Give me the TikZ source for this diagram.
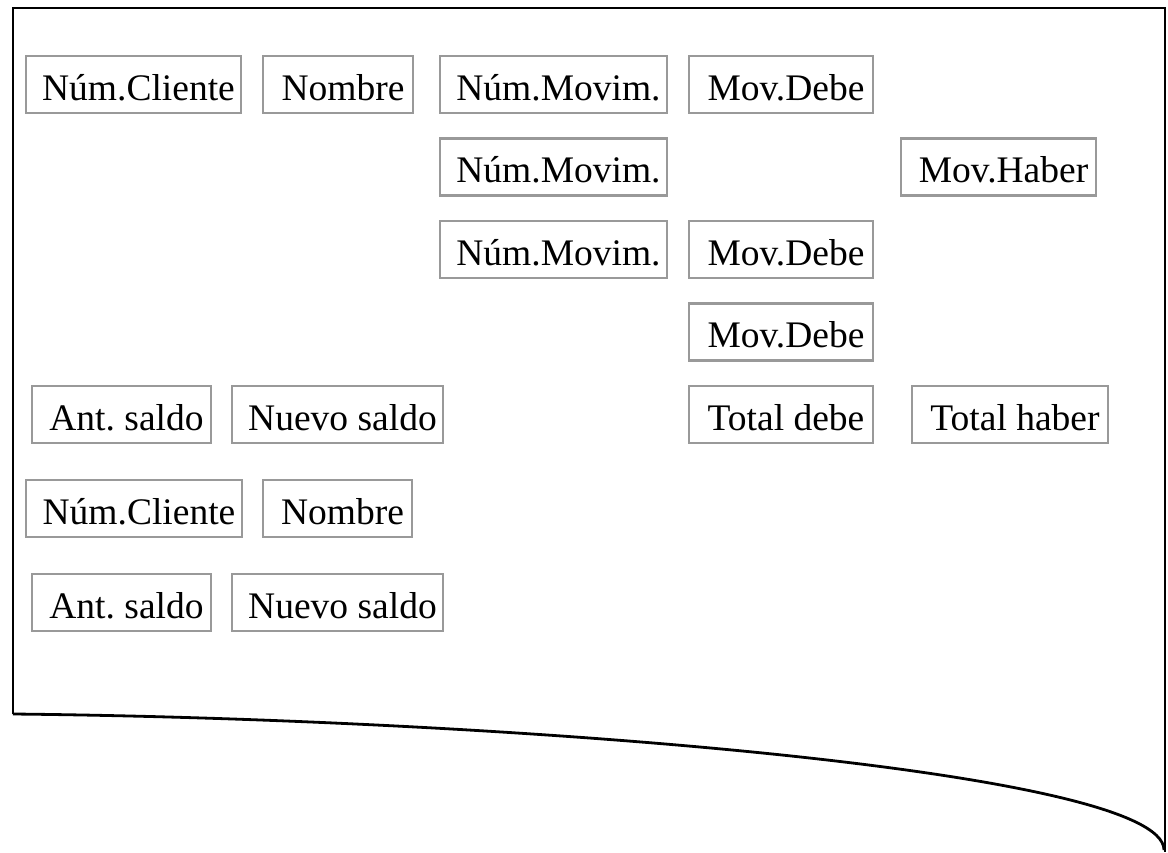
\documentclass[tikz,border=0pt]{standalone}
\usepackage{fontspec}
\setmainfont{Liberation Serif}
\frenchspacing
\begin{document}
\begin{tikzpicture}[x=1pt,y=-1pt,
  fieldbox/.style={draw=black!40, line width=2.3pt, minimum height=57pt, inner sep=0pt},
  fieldtext/.style={anchor=base, inner sep=0pt, font=\fontsize{37.5}{44}\selectfont},
  outline/.style={draw=black, line width=2.8pt}]
\useasboundingbox (0,0) rectangle (1168,852);

% document outline
\coordinate (bl) at (13,714);
\coordinate (tl) at (13,8);
\coordinate (tr) at (1165,8);
\coordinate (br) at (1165,852);
\coordinate (cend) at (1164,850);
\draw[outline] (bl) -- (tl) -- (tr) -- (br);
\draw[outline] (bl) .. controls (500,719) and (1164,770) .. (cend);

% field boxes: name, centre, width, label
\foreach \n/\cx/\cy/\w/\t in {
  c1/133.5/84.5/215/{Núm.Cliente},
  n1/338/84.5/150/{Nombre},
  m1/553.5/84.5/227/{Núm.Movim.},
  d1/781/84.5/184/{Mov.Debe},
  m2/553.5/167/227/{Núm.Movim.},
  h2/998.5/167/195/{Mov.Haber},
  m3/553.5/249.5/227/{Núm.Movim.},
  d3/781/249.5/184/{Mov.Debe},
  d4/781/332/184/{Mov.Debe},
  a5/121.5/414.5/179/{Ant. saldo},
  s5/337.5/414.5/211/{Nuevo saldo},
  td/781/414.5/184/{Total debe},
  th/1010/414.5/196/{Total haber},
  c6/134/508.5/216/{Núm.Cliente},
  n6/337.5/508.5/149/{Nombre},
  a7/121.5/602.5/179/{Ant. saldo},
  s7/337.5/602.5/211/{Nuevo saldo}}{
  \node[fieldbox, minimum width=\w pt] (\n) at (\cx,\cy) {};
  \node[fieldtext] (\n-txt) at ([xshift=5pt,yshift=-15.5pt]\n.center) {\t};
}
\end{tikzpicture}
\end{document}
